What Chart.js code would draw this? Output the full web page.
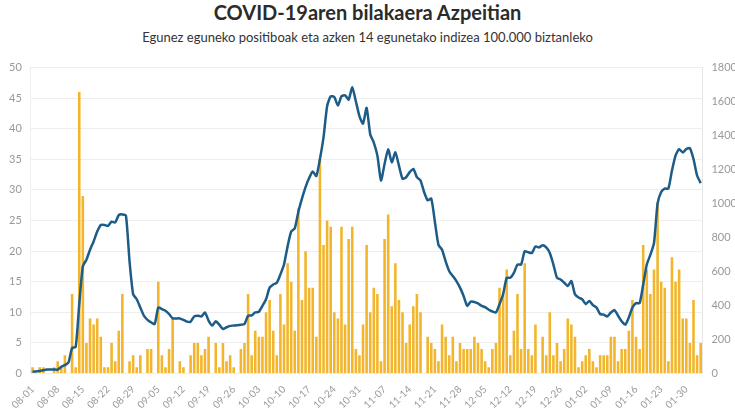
<!DOCTYPE html>
<html lang="eu">
<head>
  <meta charset="UTF-8" />
  <title>COVID-19aren bilakaera Azpeitian</title>
  <script src="https://cdn.jsdelivr.net/npm/chart.js"></script>
  <style>
    body {
      margin: 0;
      width: 735px;
      height: 413px;
      overflow: hidden;
      background: #fff;
      font-family: 'Lato', sans-serif;
      position: relative;
    }

    .title {
      position: absolute;
      top: 0;
      left: 0;
      width: 735px;
      text-align: center;
      font-size: 20px;
      font-weight: bold;
      color: #2b2b2b;
      line-height: 24px;
    }

    .subtitle {
      position: absolute;
      top: 27px;
      left: 0;
      width: 735px;
      text-align: center;
      font-size: 13px;
      color: #333;
      line-height: 20px;
    }

    .chart-box {
      position: absolute;
      left: 0;
      top: 52px;
      width: 746px;
      height: 361px;
    }
  </style>
</head>
<body>
  <div class="title">COVID-19aren bilakaera Azpeitian</div>
  <div class="subtitle">Egunez eguneko positiboak eta azken 14 egunetako indizea 100.000 biztanleko</div>

  <div class="chart-box">
    <canvas id="grafikoa"></canvas>
  </div>

  <script>
    // egunak: 2020-08-01 .. 2021-02-03
    const egunak = [];
    for (let d = new Date(Date.UTC(2020, 7, 1)); d <= new Date(Date.UTC(2021, 1, 3)); d.setUTCDate(d.getUTCDate() + 1)) {
      const mm = String(d.getUTCMonth() + 1).padStart(2, '0');
      const dd = String(d.getUTCDate()).padStart(2, '0');
      egunak.push(mm + '-' + dd);
    }

    // egunez eguneko positiboak (ezkerreko ardatza)
    const positiboak = [
      1, 0, 1, 1, 0, 0, 1, 2, 1, 3, 0, 13, 1, 46, 29, 5, 9, 8, 9, 6,
      1, 1, 5, 2, 7, 13, 0, 2, 3, 1, 3, 0, 4, 4, 0, 15, 3, 1, 4, 9,
      0, 2, 1, 0, 3, 5, 5, 3, 4, 6, 0, 5, 1, 5, 2, 3, 1, 0, 4, 5,
      13, 3, 7, 6, 6, 10, 12, 7, 3, 13, 8, 18, 15, 7, 27, 12, 20, 14, 14, 6,
      35, 21, 25, 24, 10, 9, 24, 8, 22, 24, 4, 3, 8, 21, 10, 14, 13, 2, 22, 26,
      11, 18, 12, 10, 5, 8, 11, 13, 10, 0, 6, 5, 4, 2, 8, 6, 3, 6, 2, 5,
      4, 4, 4, 6, 5, 4, 2, 1, 4, 5, 14, 13, 17, 3, 7, 13, 4, 18, 4, 3,
      8, 0, 6, 3, 10, 3, 5, 2, 4, 9, 8, 6, 1, 2, 3, 4, 2, 1, 3, 3,
      3, 6, 6, 2, 4, 4, 7, 12, 6, 4, 21, 17, 13, 17, 28, 15, 14, 2, 19, 15,
      17, 9, 9, 5, 12, 3, 5
    ];

    // azken 14 egunetako intzidentzia 100.000 biztanleko (eskuineko ardatza)
    const indizea = [
      10, 12, 14, 19, 23, 23, 23, 23, 39, 49, 64, 150, 155, 408, 631, 670, 728, 777, 835, 874,
      874, 868, 893, 889, 932, 936, 928, 660, 466, 437, 388, 340, 315, 301, 291, 388, 379, 369, 350, 324,
      324, 324, 315, 305, 305, 336, 340, 336, 359, 311, 282, 307, 287, 262, 272, 280, 282, 284, 287, 291,
      340, 342, 359, 363, 398, 437, 505, 524, 534, 583, 641, 748, 835, 854, 952, 1029, 1097, 1150, 1189, 1162,
      1262, 1389, 1573, 1631, 1627, 1577, 1631, 1637, 1612, 1684, 1602, 1515, 1470, 1563, 1408, 1359, 1282, 1136, 1233, 1320,
      1243, 1301, 1223, 1146, 1155, 1185, 1204, 1155, 1136, 1068, 1019, 1029, 893, 757, 728, 660, 602, 573, 544, 505,
      456, 398, 423, 421, 412, 398, 390, 375, 365, 359, 408, 466, 563, 563, 592, 641, 641, 719, 713, 709,
      748, 742, 754, 742, 709, 641, 563, 553, 534, 515, 544, 466, 447, 437, 408, 427, 402, 388, 350, 346,
      336, 359, 373, 340, 307, 287, 330, 388, 414, 414, 524, 641, 699, 767, 1000, 1068, 1088, 1088, 1194, 1282,
      1320, 1301, 1320, 1326, 1262, 1165, 1120
    ];

    const ctx = document.getElementById('grafikoa').getContext('2d');
    const chart = new Chart(ctx, {
      type: 'bar',
      data: {
        labels: egunak,
        datasets: [
          {
            type: 'line',
            label: 'Indizea',
            data: indizea,
            yAxisID: 'y1',
            borderColor: '#1c5c87',
            borderWidth: 2.5,
            pointRadius: 0,
            tension: 0.2,
            order: 0
          },
          {
            label: 'Positiboak',
            data: positiboak,
            yAxisID: 'y',
            backgroundColor: '#f2b52c',
            barPercentage: 0.72,
            categoryPercentage: 1.0,
            order: 1
          }
        ]
      },
      options: {
        responsive: true,
        maintainAspectRatio: false,
        animation: false,
        layout: { padding: { left: 0, right: 0, top: 9, bottom: 0 } },
        plugins: {
          legend: { display: false },
          tooltip: { enabled: false }
        },
        scales: {
          x: {
            grid: { display: false },
            border: { display: false },
            ticks: {
              autoSkip: false,
              minRotation: 45,
              maxRotation: 45,
              padding: 2,
              color: '#999',
              font: { family: 'Lato', size: 10 },
              callback: (v, i) => (i % 7 === 0 ? egunak[i] : '')
            }
          },
          y: {
            position: 'left',
            min: 0,
            max: 50,
            grid: { color: '#eeeeee', drawTicks: false },
            border: { color: '#eeeeee' },
            ticks: {
              stepSize: 5,
              padding: 9,
              color: '#999',
              font: { family: 'Lato', size: 11 }
            }
          },
          y1: {
            position: 'right',
            min: 0,
            max: 1800,
            grid: { drawOnChartArea: false, drawTicks: false },
            border: { color: '#e6e6e6' },
            ticks: {
              stepSize: 200,
              padding: 9,
              color: '#999',
              font: { family: 'Lato', size: 11 },
              callback: v => String(v)
            }
          }
        }
      }
    });
  </script>
</body>
</html>
